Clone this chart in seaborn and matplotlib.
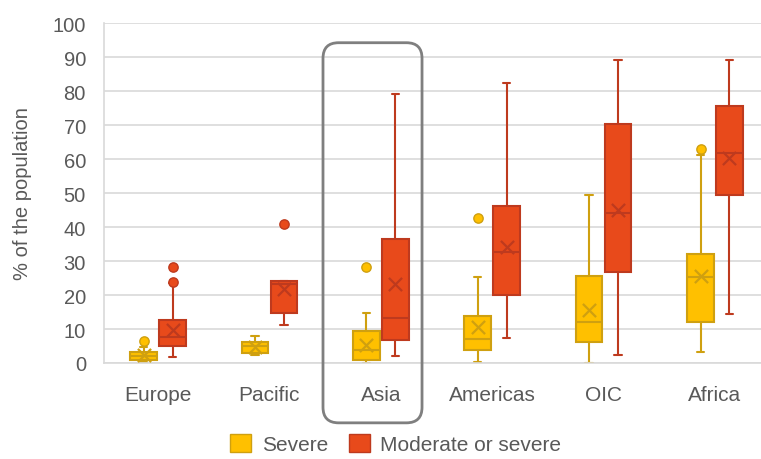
import numpy as np
import pandas as pd
import matplotlib
matplotlib.use("Agg")
import matplotlib.pyplot as plt
import seaborn as sns
from matplotlib.patches import FancyBboxPatch, Patch

# values (% of the population)
regions = ["Europe", "Pacific", "Asia", "Americas", "OIC", "Africa"]
series = ["Severe", "Moderate or severe"]

severe_min = [0.2, 2.3, 0.0, 0.4, 0.0, 3.1]
severe_q1 = [1.0, 2.9, 0.8, 3.7, 6.1, 12.2]
severe_med = [2.0, 5.0, 3.7, 7.0, 12.2, 25.3]
severe_q3 = [3.3, 6.2, 9.5, 13.7, 25.7, 32.2]
severe_max = [4.8, 7.8, 14.6, 25.3, 49.4, 61.3]
severe_mean = [2.4, 4.6, 5.4, 10.6, 15.7, 25.5]
severe_out = {"Europe": [6.6], "Asia": [28.2], "Americas": [42.7], "Africa": [63.0]}

modsev_min = [1.9, 11.2, 2.2, 7.5, 2.3, 14.5]
modsev_q1 = [5.0, 14.7, 6.9, 20.0, 26.9, 49.5]
modsev_med = [7.6, 23.3, 13.3, 32.7, 44.1, 61.8]
modsev_q3 = [12.6, 24.2, 36.4, 46.3, 70.4, 75.7]
modsev_max = [23.5, 24.2, 79.2, 82.5, 89.0, 89.0]
modsev_mean = [9.8, 21.8, 23.3, 34.1, 45.1, 60.2]
modsev_out = {"Europe": [23.9, 28.2], "Pacific": [40.8]}

fill = {"Severe": "#FFC000", "Moderate or severe": "#E84A1B"}
edge = {"Severe": "#CFA010", "Moderate or severe": "#BE3A1E"}

stats = {
    "Severe": (severe_min, severe_q1, severe_med, severe_q3, severe_max, severe_mean, severe_out),
    "Moderate or severe": (modsev_min, modsev_q1, modsev_med, modsev_q3, modsev_max, modsev_mean, modsev_out),
}

# five-number summary per box as long-form rows (whis=(0, 100) -> whiskers at min/max)
rows = []
for s in series:
    lo, q1, med, q3, hi, _, _ = stats[s]
    for i, r in enumerate(regions):
        for v in (lo[i], q1[i], med[i], q3[i], hi[i]):
            rows.append({"region": r, "series": s, "value": v})
df = pd.DataFrame(rows)

sns.set_style("white")
plt.rcParams["font.family"] = ["Liberation Sans", "DejaVu Sans"]

fig = plt.figure(figsize=(7.61, 4.60), dpi=100)
ax = fig.add_axes([104 / 761, 96 / 460, 657 / 761, 340 / 460])

width = 0.52
sns.boxplot(data=df, x="region", y="value", hue="series",
            order=regions, hue_order=series, palette=fill, width=width, gap=0.08,
            whis=(0, 100), saturation=1, linewidth=1.5,
            showfliers=False, legend=False, capwidths=0.065, ax=ax)

# seaborn puts one BoxPlotContainer per hue level; colour the lines per series
for s, cont in zip(series, ax.containers):
    for b in cont.boxes:
        b.set_edgecolor(edge[s])
    for ln in list(cont.medians) + list(cont.whiskers) + list(cont.caps):
        ln.set_color(edge[s])

# means and outliers on the same dodged positions
offsets = {"Severe": -width / 4, "Moderate or severe": width / 4}
xpos = np.arange(len(regions))
for s in series:
    mean = stats[s][5]
    outl = stats[s][6]
    ax.scatter(xpos + offsets[s], mean, marker="x", s=90, linewidths=1.6,
               color=edge[s], zorder=5)
    ox, oy = [], []
    for i, r in enumerate(regions):
        for v in outl.get(r, []):
            ox.append(i + offsets[s])
            oy.append(v)
    ax.scatter(ox, oy, s=45, color=fill[s], edgecolor=edge[s], linewidths=1, zorder=5)

ax.set_xlim(-0.485, 5.413)
ax.set_ylim(0, 100)
ax.set_yticks(range(0, 101, 10))
ax.yaxis.grid(True, color="#D9D9D9", linewidth=1.2)
ax.set_axisbelow(True)
for side in ["top", "right"]:
    ax.spines[side].set_visible(False)
for side in ["left", "bottom"]:
    ax.spines[side].set_color("#D9D9D9")
    ax.spines[side].set_linewidth(1.2)
ax.tick_params(axis="both", length=0, colors="#595959")
ax.tick_params(axis="x", pad=16, labelsize=15)
ax.tick_params(axis="y", pad=13, labelsize=14.5)
ax.set_xlabel("")
ax.set_ylabel("% of the population", fontsize=14.5, color="#595959", labelpad=15)

# rounded frame around Asia
px_x = ax.get_position().width * fig.bbox.width / (5.413 + 0.485)
px_y = ax.get_position().height * fig.bbox.height / 100
frame = FancyBboxPatch((1.481, -17.6), 2.370 - 1.481, 94.2 + 17.6,
                       boxstyle="round,pad=0,rounding_size=0.14",
                       mutation_aspect=px_x / px_y, facecolor="none",
                       edgecolor="#7F7F7F", linewidth=2, clip_on=False, zorder=6)
ax.add_patch(frame)

handles = [Patch(facecolor=fill[s], edgecolor=edge[s], linewidth=1) for s in series]
fig.legend(handles, series, loc="lower center", bbox_to_anchor=(0.52, -0.03), ncol=2,
           frameon=False, fontsize=15, labelcolor="#595959", handlelength=1.0,
           handleheight=1.0, handletextpad=0.5, columnspacing=1.0)

fig.savefig("out.png", dpi=100)
